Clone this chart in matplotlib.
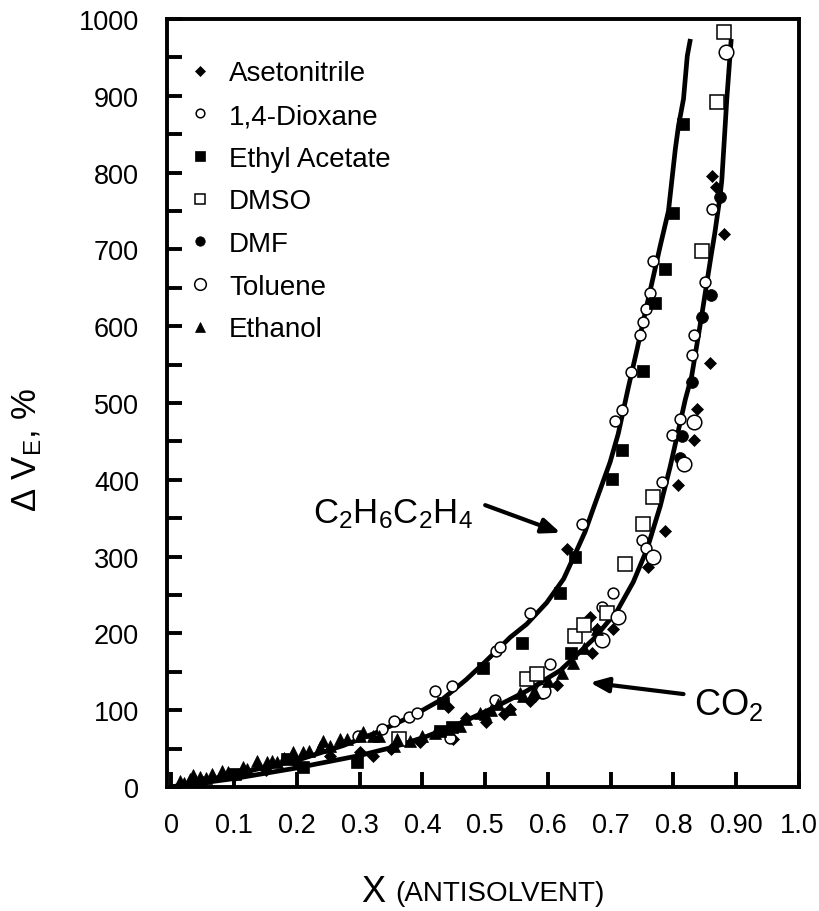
import matplotlib
matplotlib.use("Agg")
import matplotlib.pyplot as plt
from matplotlib.ticker import MultipleLocator

plt.rcParams["font.family"] = ["Liberation Sans", "DejaVu Sans"]
plt.rcParams["mathtext.fontset"] = "custom"
plt.rcParams["mathtext.rm"] = "Liberation Sans"
plt.rcParams["mathtext.it"] = "Liberation Sans:italic"
plt.rcParams["mathtext.default"] = "regular"

# ---- measured points (x = antisolvent mole fraction, y = volume expansion %) ----
aceto_x = [0.05, 0.10, 0.15, 0.20, 0.253, 0.300, 0.322, 0.350, 0.396, 0.441, 0.449,
           0.470, 0.502, 0.530, 0.540, 0.571, 0.580, 0.614, 0.630, 0.667, 0.670,
           0.678, 0.704, 0.760, 0.787, 0.808, 0.832, 0.837, 0.858, 0.861, 0.867,
           0.880]
aceto_y = [7, 14, 22, 30, 40, 45, 41, 50, 58, 104, 62,
           90, 84, 95, 102, 112, 118, 133, 310, 221, 175,
           206, 206, 286, 333, 393, 452, 492, 552, 796, 781,
           720]

diox_x = [0.298, 0.335, 0.354, 0.378, 0.391, 0.420, 0.447, 0.444, 0.516, 0.518, 0.524,
          0.572, 0.590, 0.604, 0.654, 0.686, 0.704, 0.707, 0.718, 0.733, 0.747,
          0.750, 0.752, 0.757, 0.757, 0.762, 0.768, 0.782, 0.798, 0.811, 0.829,
          0.832, 0.851, 0.861]
diox_y = [67, 75, 86, 91, 97, 125, 131, 64, 113, 177, 182,
          227, 123, 160, 342, 234, 253, 477, 491, 541, 588,
          321, 605, 622, 311, 643, 685, 397, 458, 479, 562,
          588, 657, 753]

ethac_x = [0.101, 0.184, 0.210, 0.295, 0.428, 0.433, 0.447, 0.497, 0.558, 0.619,
           0.636, 0.643, 0.702, 0.718, 0.752, 0.770, 0.787, 0.799, 0.815]
ethac_y = [17, 36, 26, 32, 73, 110, 78, 155, 188, 253,
           174, 299, 401, 439, 542, 630, 674, 748, 863]

dmso_x = [0.362, 0.566, 0.582, 0.643, 0.657, 0.694, 0.723, 0.752, 0.768, 0.846,
          0.869, 0.881]
dmso_y = [62, 141, 147, 196, 211, 227, 291, 342, 377, 698,
          892, 983]

dmf_x = [0.811, 0.814, 0.829, 0.845, 0.860, 0.874]
dmf_y = [429, 457, 527, 612, 641, 768]

tol_x = [0.592, 0.686, 0.712, 0.768, 0.816, 0.832, 0.883]
tol_y = [125, 192, 221, 300, 420, 475, 957]

etoh_x = [0.013, 0.020, 0.029, 0.035, 0.045, 0.055, 0.064, 0.080, 0.090, 0.114,
          0.120, 0.136, 0.152, 0.160, 0.168, 0.180, 0.194, 0.210, 0.220, 0.237,
          0.242, 0.253, 0.268, 0.280, 0.300, 0.306, 0.322, 0.330, 0.354, 0.360,
          0.380, 0.400, 0.420, 0.440, 0.460, 0.470, 0.492, 0.500, 0.510, 0.520,
          0.540, 0.555, 0.560, 0.578, 0.600, 0.622, 0.640, 0.658, 0.678]
etoh_y = [8, 5, 10, 15, 13, 12, 17, 21, 20, 26,
          24, 34, 32, 34, 32, 38, 45, 45, 47, 52,
          60, 54, 62, 62, 67, 71, 67, 66, 54, 62,
          60, 66, 70, 76, 80, 88, 97, 95, 100, 108,
          102, 123, 118, 125, 138, 149, 162, 181, 206]

# ---- fitted curves ----
ethane_x = [0, 0.05, 0.114, 0.205, 0.274, 0.327, 0.385, 0.433, 0.47, 0.50, 0.54,
            0.566, 0.598, 0.625, 0.643, 0.659, 0.672, 0.699, 0.712, 0.728, 0.742,
            0.755, 0.768, 0.779, 0.792, 0.803, 0.808, 0.816, 0.822, 0.827]
ethane_y = [0, 8, 19, 36, 54, 71, 93, 115, 140, 163, 195,
            212, 240, 271, 303, 332, 362, 423, 460, 520, 570,
            618, 665, 705, 750, 831, 861, 896, 952, 974]

co2_x = [0, 0.1, 0.194, 0.300, 0.354, 0.407, 0.460, 0.513, 0.566, 0.620, 0.673,
         0.710, 0.736, 0.758, 0.779, 0.795, 0.808, 0.819, 0.829, 0.845, 0.859,
         0.866, 0.874, 0.877, 0.885, 0.892]
co2_y = [0, 11, 24, 41, 52, 66, 83, 103, 125, 152, 193,
         229, 267, 310, 366, 418, 465, 505, 535, 614, 687,
         722, 768, 790, 896, 974]

x_ticks = [0, 0.1, 0.2, 0.3, 0.4, 0.5, 0.6, 0.7, 0.8, 0.9, 1.0]
x_ticklabels = ["0", "0.1", "0.2", "0.3", "0.4", "0.5", "0.6", "0.7", "0.8", "0.90", "1.0"]
y_ticks = [0, 100, 200, 300, 400, 500, 600, 700, 800, 900, 1000]

W, H = 820, 912
fig = plt.figure(figsize=(W / 100, H / 100), dpi=100)
ax = fig.add_axes([167 / W, 1 - 788 / H, (799 - 167) / W, (788 - 20) / H])

# curves
ax.plot(ethane_x, ethane_y, color="black", lw=3.4, solid_joinstyle="round",
        solid_capstyle="butt", zorder=2)
ax.plot(co2_x, co2_y, color="black", lw=3.4, solid_joinstyle="round",
        solid_capstyle="butt", zorder=2)

# data series
ax.plot(aceto_x, aceto_y, ls="none", marker="D", ms=5.8, mfc="black", mec="black",
        mew=0.5, label="Asetonitrile", zorder=3)
ax.plot(diox_x, diox_y, ls="none", marker="o", ms=7.8, mfc="white", mec="black",
        mew=1.1, label="1,4-Dioxane", zorder=3)
ax.plot(ethac_x, ethac_y, ls="none", marker="s", ms=9, mfc="black", mec="black",
        mew=0.5, label="Ethyl Acetate", zorder=3)
ax.plot(dmso_x, dmso_y, ls="none", marker="s", ms=9.5, mfc="white", mec="black",
        mew=1.1, label="DMSO", zorder=3)
ax.plot(dmf_x, dmf_y, ls="none", marker="o", ms=8.5, mfc="black", mec="black",
        mew=0.5, label="DMF", zorder=3)
ax.plot(tol_x, tol_y, ls="none", marker="o", ms=10.5, mfc="white", mec="black",
        mew=1.1, label="Toluene", zorder=3)
ax.plot(etoh_x, etoh_y, ls="none", marker="^", ms=8.5, mfc="black", mec="black",
        mew=0.5, label="Ethanol", zorder=3)

ax.set_xlim(-0.007, 1.0)
ax.set_ylim(0, 1000)

ax.set_xticks(x_ticks)
ax.set_xticklabels(x_ticklabels)
ax.set_yticks(y_ticks)
ax.yaxis.set_minor_locator(MultipleLocator(50))

for s in ax.spines.values():
    s.set_linewidth(2.8)
ax.tick_params(axis="both", which="both", direction="in", length=11, width=2.8,
               top=False, right=False, labelsize=19.5)
ax.tick_params(axis="x", pad=18)
ax.tick_params(axis="y", pad=20)

leg = ax.legend(loc="upper left", bbox_to_anchor=(0.030, 0.946), frameon=False,
                borderpad=0, borderaxespad=0, handlelength=1.0, handletextpad=0.55,
                labelspacing=0.60, numpoints=1, markerscale=0.8, fontsize=20)

# annotations
ax.annotate("", xy=(0.620, 331), xytext=(0.500, 367),
            arrowprops=dict(arrowstyle="-|>,head_length=1.1,head_width=0.45",
                            color="black", lw=3, shrinkA=0, shrinkB=0))
ax.text(0.2255, 345, r"C$_2$H$_6$C$_2$H$_4$", fontsize=25, ha="left", va="baseline")

ax.annotate("", xy=(0.667, 136), xytext=(0.816, 121),
            arrowprops=dict(arrowstyle="-|>,head_length=1.1,head_width=0.45",
                            color="black", lw=3, shrinkA=0, shrinkB=0))
ax.text(0.832, 95, r"CO$_2$", fontsize=26, ha="left", va="baseline")

# axis titles
fig.text(27 / W, 1 - 450 / H, r"$\Delta$ V$_E$, %", rotation=90, fontsize=25,
         ha="center", va="center")
fig.text(361 / W, 1 - 902 / H, "X", fontsize=26, ha="left", va="baseline")
fig.text(395 / W, 1 - 901 / H, "(ANTISOLVENT)", fontsize=20, ha="left", va="baseline")

fig.savefig("out.png", dpi=100)
